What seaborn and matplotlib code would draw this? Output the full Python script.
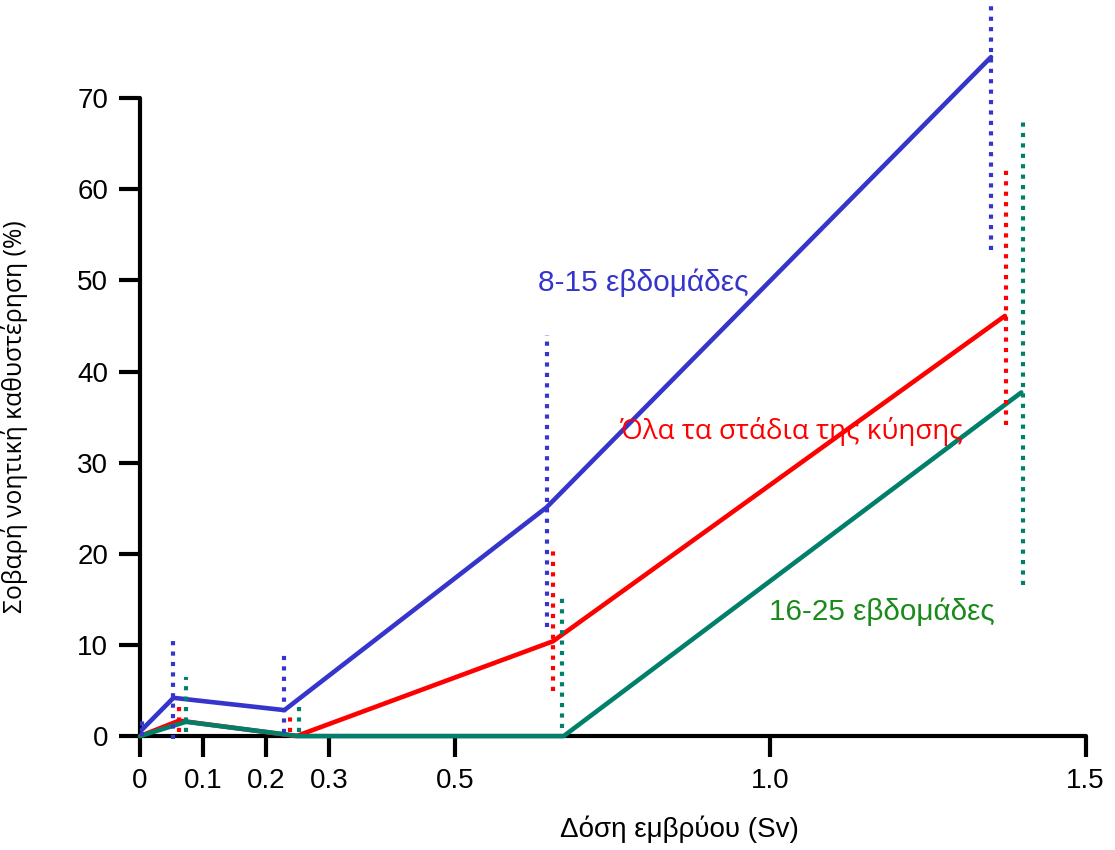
import pandas as pd
import matplotlib.pyplot as plt
import seaborn as sns

# Values
groups = ['8-15 εβδομάδες', 'Όλα τα στάδια της κύησης', '16-25 εβδομάδες']

blue_x = [0.003, 0.053, 0.229, 0.645, 1.350]
blue_y = [0.7, 4.2, 2.85, 25.1, 74.5]
blue_lo = [0.0, -0.3, 0.3, 12.0, 53.3]
blue_hi = [2.1, 11.1, 9.3, 44.0, 80.5]

red_x = [0.0, 0.062, 0.248, 0.655, 1.372]
red_y = [0.0, 1.7, 0.0, 10.4, 46.1]
red_lo = [None, 0.4, 0.4, 4.9, 34.1]
red_hi = [None, 3.2, 2.1, 20.6, 62.1]
red_bar_x = [None, 0.062, 0.238, 0.655, 1.373]

green_x = [0.0, 0.073, 0.252, 0.672, 1.398]
green_y = [0.0, 1.57, 0.0, 0.0, 37.7]
green_lo = [None, 0.5, 0.5, 0.9, 16.6]
green_hi = [None, 6.5, 3.4, 15.4, 67.4]
green_bar_x = [None, 0.073, 0.252, 0.669, 1.400]

x_ticks = [0, 0.1, 0.2, 0.3, 0.5, 1.0, 1.5]
x_ticklabels = ['0', '0.1', '0.2', '0.3', '0.5', '1.0', '1.5']
y_ticks = [0, 10, 20, 30, 40, 50, 60, 70]

colors = {'8-15 εβδομάδες': '#3535cc',
          'Όλα τα στάδια της κύησης': '#ff0000',
          '16-25 εβδομάδες': '#00806a'}

df = pd.concat([
    pd.DataFrame({'dose': blue_x, 'pct': blue_y, 'group': groups[0]}),
    pd.DataFrame({'dose': red_x, 'pct': red_y, 'group': groups[1]}),
    pd.DataFrame({'dose': green_x, 'pct': green_y, 'group': groups[2]}),
])

sns.set_style('white')
plt.rcParams['font.family'] = ['Liberation Sans', 'DejaVu Sans']

fig = plt.figure(figsize=(11.15, 8.5), dpi=100)
ax = fig.add_axes([0.1256, 0.134, 0.848, 0.7506])

sns.lineplot(data=df, x='dose', y='pct', hue='group', palette=colors,
             linewidth=3.3, legend=False, ax=ax, sort=False, zorder=3)
for ln in ax.lines:
    ln.set_clip_on(False)
    ln.set_solid_capstyle('round')

# dotted error ranges
bars = [(blue_x, blue_lo, blue_hi, colors[groups[0]]),
        (red_bar_x, red_lo, red_hi, colors[groups[1]]),
        (green_bar_x, green_lo, green_hi, colors[groups[2]])]
for bx, lo, hi, c in bars:
    for xi, l, h in zip(bx, lo, hi):
        if xi is None:
            continue
        ax.plot([xi, xi], [l, h], color=c, lw=3, linestyle=(0, (1, 1.5)),
                clip_on=False, zorder=4)

ax.set_xlim(0, 1.5)
ax.set_ylim(0, 70)
ax.set_xticks(x_ticks)
ax.set_xticklabels(x_ticklabels)
ax.set_yticks(y_ticks)
ax.tick_params(axis='both', direction='out', length=15, width=3,
               labelsize=20, color='black', labelcolor='black', pad=8,
               bottom=True, left=True)

for s in ['top', 'right']:
    ax.spines[s].set_visible(False)
for s in ['left', 'bottom']:
    ax.spines[s].set_linewidth(3)
    ax.spines[s].set_color('black')
    ax.spines[s].set_capstyle('round')

ax.set_xlabel('Δόση εμβρύου (Sv)', fontsize=20, color='black')
ax.xaxis.set_label_coords(0.571, -0.124)
ax.set_ylabel('Σοβαρή νοητική καθυστέρηση (%)', fontsize=17.8, color='black',
              family=['Open Sans', 'DejaVu Sans'])
ax.yaxis.set_label_coords(-0.118, 0.5)

ax.text(0.631, 49.7, '8-15 εβδομάδες', color='#3535cc', fontsize=21.5,
        ha='left', va='center')
ax.text(0.761, 33.4, 'Όλα τα στάδια της κύησης', color='#ff0000',
        fontsize=20, family=['Open Sans', 'DejaVu Sans'], ha='left', va='center')
ax.text(0.998, 13.6, '16-25 εβδομάδες', color='#1a8a1a', fontsize=21.3,
        ha='left', va='center')

fig.savefig('out.png', dpi=100)
